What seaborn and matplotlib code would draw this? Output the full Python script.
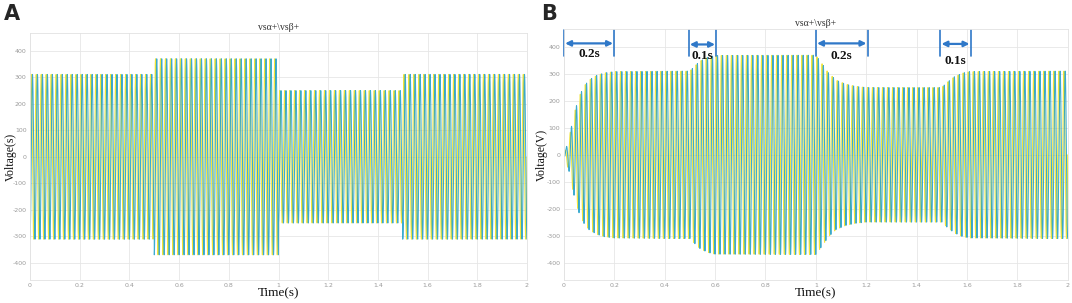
import numpy as np
import pandas as pd
import matplotlib
matplotlib.use("Agg")
import matplotlib.pyplot as plt
import seaborn as sns

# ---- data ----
freq_hz = 50.0
t_end = 2.0
# Panel A: step amplitude changes (V)
stepA_times = [0.0, 0.5, 1.0, 1.5]
stepA_amps = [311, 370, 250, 311]
# Panel B: smooth envelope key points (t, amplitude)
envB_t = [0.0, 0.02, 0.04, 0.06, 0.08, 0.10, 0.13, 0.16, 0.20, 0.50, 0.52, 0.54, 0.57, 0.60,
          1.00, 1.02, 1.05, 1.08, 1.12, 1.16, 1.20, 1.50, 1.52, 1.55, 1.58, 1.61, 2.0]
envB_a = [0, 60, 150, 215, 255, 278, 295, 304, 309, 311, 330, 348, 362, 369,
          370, 345, 305, 278, 262, 254, 250, 250, 268, 290, 303, 309, 311]
xticks = [0, 0.2, 0.4, 0.6, 0.8, 1.0, 1.2, 1.4, 1.6, 1.8, 2.0]
xticklabels = ["0", "0.2", "0.4", "0.6", "0.8", "1", "1.2", "1.4", "1.6", "1.8", "2"]
yticks = [-400, -300, -200, -100, 0, 100, 200, 300, 400]
ytickl = ["-400", "-300", "-200", "-100", "0", "100", "200", "300", "400"]
# Panel B annotations: (t_start, t_end, label)
ann_start = [0.0, 0.495, 1.0, 1.494]
ann_stop = [0.2, 0.605, 1.206, 1.615]
ann_text = ["0.2s", "0.1s", "0.2s", "0.1s"]
ann_arrow_y = [414, 410, 414, 412]
ann_text_y = [376, 366, 366, 350]

t = np.linspace(0, t_end, 40001)
idx = np.searchsorted(stepA_times, t, side="right") - 1
ampA = np.array(stepA_amps, dtype=float)[idx]
ampB = np.interp(t, envB_t, envB_a)

def frame(amp):
    w = 2 * np.pi * freq_hz * t
    return pd.DataFrame({
        "t": np.concatenate([t, t]),
        "v": np.concatenate([amp * np.sin(w), -amp * np.cos(w)]),
        "sig": ["a"] * len(t) + ["b"] * len(t),
    })

dfA = frame(ampA)
dfB = frame(ampB)

sns.set_theme(style="whitegrid")
plt.rcParams["font.family"] = ["DejaVu Sans"]
plt.rcParams["axes.unicode_minus"] = False
serif = ["Liberation Serif", "DejaVu Serif"]

fig = plt.figure(figsize=(10.72, 3.03), dpi=100)
axA = fig.add_axes([0.028, 0.0759, 0.4636, 0.815])
axB = fig.add_axes([0.526, 0.0759, 0.470, 0.828])

yellow = "#F3E43A"
blue = "#1A9CC8"

for ax, df, ylab, ylx in [(axA, dfA, "Voltage(s)", -0.026), (axB, dfB, "Voltage(V)", -0.032)]:
    sns.lineplot(data=df[df.sig == "a"], x="t", y="v", ax=ax, color=yellow,
                 linewidth=0.75, estimator=None, sort=False)
    sns.lineplot(data=df[df.sig == "b"], x="t", y="v", ax=ax, color=blue,
                 linewidth=0.75, alpha=0.85, estimator=None, sort=False)
    ax.set_xlim(0, 2)
    ax.set_ylim(-465, 467)
    ax.set_xticks(xticks)
    ax.set_xticklabels(xticklabels)
    ax.set_yticks(yticks)
    ax.set_yticklabels(ytickl)
    ax.tick_params(axis="both", labelsize=4.5, colors="#9a9a9a", length=0, pad=2.5)
    ax.grid(True, color="#e6e6e6", linewidth=0.6)
    for s in ax.spines.values():
        s.set_color("#e2e2e2")
        s.set_linewidth(0.6)
    ax.set_xlabel("Time(s)", family=serif, fontsize=9.5, color="#111111")
    ax.xaxis.set_label_coords(0.5, -0.03)
    ax.set_ylabel(ylab, family=serif, fontsize=8.5, color="#111111")
    ax.yaxis.set_label_coords(ylx, 0.5)
    ax.set_title("vsα+\\vsβ+", family=serif, fontsize=7, color="#333333", pad=2)

# panel B annotations
ac = "#2F78C8"
for a0, a1, lab, ay, ty in zip(ann_start, ann_stop, ann_text, ann_arrow_y, ann_text_y):
    for xx in (a0, a1):
        axB.plot([xx, xx], [366, 463], color=ac, linewidth=1.2, clip_on=False)
    axB.annotate("", xy=(a1 - 0.005, ay), xytext=(a0 + 0.005, ay),
                 arrowprops=dict(arrowstyle="<|-|>", color=ac, lw=1.6,
                                 mutation_scale=8, shrinkA=0, shrinkB=0))
    axB.text((a0 + a1) / 2, ty, lab, family=serif, fontsize=9.5, fontweight="bold",
             ha="center", va="center", color="#111111")

fig.text(0.004, 0.955, "A", fontsize=15, fontweight="bold", ha="left", va="center")
fig.text(0.505, 0.955, "B", fontsize=15, fontweight="bold", ha="left", va="center")

fig.savefig("out.png", dpi=100)
